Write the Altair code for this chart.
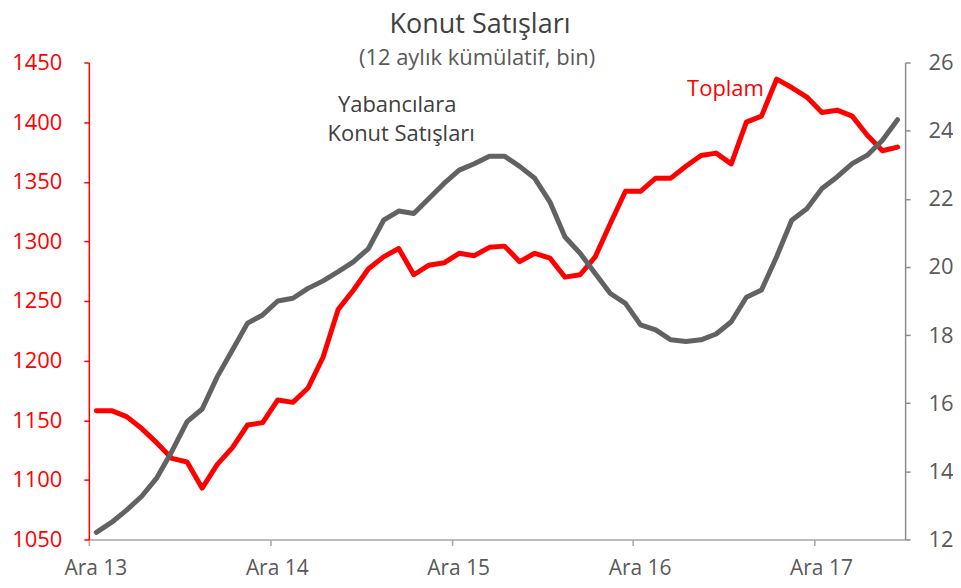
import json
import altair as alt
import pandas as pd

# Data (month index 0 = Ara 13 ... 53 = May 18)
ay = list(range(54))
toplam = [1158, 1158, 1153, 1143, 1131, 1118, 1115, 1093, 1113, 1127, 1146, 1148,
          1167, 1165, 1177, 1203, 1243, 1259, 1277, 1287, 1294, 1272, 1280, 1282,
          1290, 1288, 1295, 1296, 1283, 1290, 1286, 1270, 1272, 1287, 1315, 1342,
          1342, 1353, 1353, 1363, 1372, 1374, 1365, 1400, 1405, 1436, 1429, 1421,
          1408, 1410, 1405, 1389, 1376, 1379]
yabanci = [12.21, 12.50, 12.86, 13.27, 13.81, 14.59, 15.46, 15.83, 16.78, 17.56, 18.35, 18.59,
           19.00, 19.08, 19.37, 19.59, 19.86, 20.15, 20.54, 21.37, 21.64, 21.57, 22.01, 22.45,
           22.84, 23.03, 23.25, 23.25, 22.95, 22.60, 21.91, 20.88, 20.40, 19.81, 19.22, 18.93,
           18.30, 18.15, 17.86, 17.81, 17.86, 18.03, 18.39, 19.11, 19.32, 20.30, 21.37, 21.71,
           22.30, 22.64, 23.03, 23.28, 23.72, 24.32]
x_tick_ay = [0, 12, 24, 36, 48]
x_etiket = ["Ara 13", "Ara 14", "Ara 15", "Ara 16", "Ara 17"]
sol_ticks = [1050, 1100, 1150, 1200, 1250, 1300, 1350, 1400, 1450]
sag_ticks = [12, 14, 16, 18, 20, 22, 24, 26]

baslik = "Konut Satışları"
alt_baslik = "(12 aylık kümülatif, bin)"
etiket_yabanci = ["Yabancılara", "Konut Satışları"]
etiket_toplam = "Toplam"

df = pd.DataFrame({"ay": ay, "toplam": toplam, "yabanci": yabanci})

FONT = "Open Sans"
W, H = 818, 478
half = W / 54 / 2
GREY_TXT = "#595959"

x_enc = alt.X(
    "ay:Q",
    scale=alt.Scale(domain=[-0.5, 53.5], nice=False, zero=False),
    axis=alt.Axis(
        values=x_tick_ay,
        labelExpr="%s[datum.value/12]" % json.dumps(x_etiket),
        tickOffset=-half,
        labelOffset=half - 1,
        title=None,
        grid=False,
        domainColor="#A6A6A6",
        tickColor="#A6A6A6",
        domainWidth=1.5,
        tickWidth=1.5,
        tickSize=6,
        labelColor=GREY_TXT,
        labelFontSize=21,
        labelFont=FONT,
        labelPadding=12,
    ),
)

red = alt.Chart(df).mark_line(
    color="#FF0000", strokeWidth=5, strokeCap="round", strokeJoin="round"
).encode(
    x=x_enc,
    y=alt.Y(
        "toplam:Q",
        scale=alt.Scale(domain=[1050, 1450], nice=False, zero=False),
        axis=alt.Axis(
            orient="left", values=sol_ticks, format="d", title=None, grid=False,
            labelColor="#FF0000", domainColor="#FF0000", tickColor="#FF0000",
            domainWidth=1.5, tickWidth=1.5, tickSize=5,
            labelFontSize=22, labelFont=FONT, labelPadding=22,
        ),
    ),
)

grey = alt.Chart(df).mark_line(
    color="#626262", strokeWidth=5, strokeCap="round", strokeJoin="round"
).encode(
    x=alt.X("ay:Q"),
    y=alt.Y(
        "yabanci:Q",
        scale=alt.Scale(domain=[12, 26], nice=False, zero=False),
        axis=alt.Axis(
            orient="right", values=sag_ticks, format="d", title=None, grid=False,
            labelColor=GREY_TXT, domainColor="#8C8C8C", tickColor="#8C8C8C",
            domainWidth=1.5, tickWidth=1.5, tickSize=5,
            labelFontSize=22, labelFont=FONT, labelPadding=18,
        ),
    ),
)


def txt(text, x, y, size, color):
    return alt.Chart(pd.DataFrame({"t": [text]})).mark_text(
        font=FONT, fontSize=size, color=color, align="center", baseline="middle"
    ).encode(x=alt.value(x), y=alt.value(y), text="t:N")


layers = [
    red,
    grey,
    txt(baslik, 392, -38, 27, "#404040"),
    txt(alt_baslik, 389, -4, 22, GREY_TXT),
    txt(etiket_yabanci[0], 309, 43, 22, "#404040"),
    txt(etiket_yabanci[1], 313, 72, 22, "#404040"),
    txt(etiket_toplam, 638, 27, 22, "#FF0000"),
]

chart = alt.layer(*layers).resolve_scale(y="independent").properties(
    width=W,
    height=H,
    autosize=alt.AutoSizeParams(type="none"),
    padding={"left": 81, "top": 54, "right": 48, "bottom": 40},
).configure_view(stroke=None)

chart.save("out.html", embed_options={"renderer": "svg", "actions": False})
